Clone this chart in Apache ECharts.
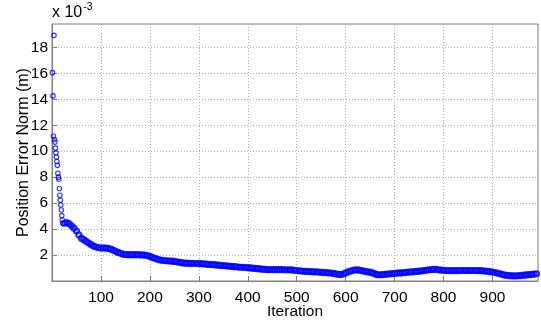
<!DOCTYPE html>
<html>
<head>
<meta charset="utf-8">
<script src="https://cdn.jsdelivr.net/npm/echarts@6/dist/echarts.min.js"></script>
<style>
html,body{margin:0;padding:0;background:#fff;}
#c{width:541px;height:325px;}
</style>
</head>
<body>
<div id="c"></div>
<script>
// Early iterations (scattered circles), values in units of 1e-3 m
var earlyIter = [1,2,3,4,5,6,7,8,9,10,11,12,13,14,15,16,17,18,19,20,21,22];
var earlyVal  = [16.05,14.26,11.15,18.92,10.9,10.7,10.24,9.88,9.55,9.21,8.91,8.3,8.0,7.84,7.13,6.61,6.23,5.85,5.47,5.04,4.70,4.45];

// Dense part: one reading every 5 iterations starting at iteration 25
var bandStart = 25;
var bandStep = 5;
var bandVal = [
4.45,4.50,4.42,4.25,4.07,3.85,3.55,3.30,3.18,3.05,
2.92,2.80,2.69,2.62,2.57,2.54,2.55,2.54,2.51,2.46,
2.38,2.29,2.20,2.13,2.07,2.04,2.03,2.03,2.03,2.03,
2.03,2.02,2.01,1.99,1.96,1.90,1.82,1.75,1.69,1.63,
1.59,1.57,1.56,1.54,1.53,1.51,1.48,1.44,1.41,1.38,
1.37,1.36,1.36,1.35,1.35,1.34,1.34,1.32,1.30,1.28,
1.27,1.26,1.24,1.22,1.20,1.18,1.17,1.15,1.13,1.11,
1.10,1.08,1.06,1.05,1.04,1.03,1.01,0.99,0.97,0.95,
0.93,0.91,0.89,0.88,0.88,0.87,0.87,0.87,0.87,0.87,
0.86,0.86,0.86,0.85,0.83,0.81,0.79,0.77,0.75,0.74,
0.73,0.72,0.71,0.70,0.69,0.67,0.66,0.64,0.63,0.61,
0.58,0.55,0.51,0.50,0.54,0.62,0.70,0.77,0.82,0.85,
0.85,0.82,0.78,0.74,0.71,0.68,0.62,0.55,0.49,0.48,
0.49,0.51,0.53,0.55,0.57,0.59,0.61,0.62,0.63,0.65,
0.67,0.69,0.71,0.72,0.74,0.76,0.78,0.80,0.83,0.86,
0.88,0.90,0.89,0.86,0.84,0.82,0.81,0.80,0.80,0.80,
0.80,0.80,0.81,0.81,0.81,0.81,0.81,0.81,0.81,0.80,
0.80,0.79,0.77,0.75,0.72,0.69,0.65,0.61,0.56,0.51,
0.46,0.43,0.41,0.40,0.40,0.40,0.41,0.43,0.45,0.47,
0.49,0.51,0.53,0.56
];

var xTicks = [100,200,300,400,500,600,700,800,900];
var yTicks = [2,4,6,8,10,12,14,16,18];

var earlyData = earlyIter.map(function(x,i){return [x, earlyVal[i]];});
var bandData = bandVal.map(function(v,i){return [bandStart + i*bandStep, v];});

var chart = echarts.init(document.getElementById('c'), null, {renderer:'canvas'});
var font = 'Liberation Sans, Arial, sans-serif';
var axisGrey = '#808080';

chart.setOption({
  animation:false,
  backgroundColor:'#fff',
  textStyle:{fontFamily:font},
  grid:{left:52, right:3, top:24, bottom:43, show:true, borderColor:axisGrey, borderWidth:1, backgroundColor:'transparent'},
  xAxis:{
    type:'value', min:0, max:993, interval:100,
    name:'Iteration', nameLocation:'middle', nameGap:23, nameMoveOverlap:false,
    nameTextStyle:{fontSize:15.5, color:'#000', fontFamily:font},
    axisLine:{lineStyle:{color:axisGrey}},
    axisTick:{inside:true, length:5, lineStyle:{color:axisGrey}},
    axisLabel:{fontSize:15.5, color:'#000', margin:9, fontFamily:font,
      showMinLabel:false, showMaxLabel:false,
      formatter:function(v){return xTicks.indexOf(v)>=0 ? String(v) : '';}},
    splitLine:{show:true, lineStyle:{color:'#b0b0b0', type:[1,2], width:1}}
  },
  yAxis:{
    type:'value', min:0, max:19.8, interval:2,
    name:'Position Error Norm (m)', nameLocation:'middle', nameGap:20, nameMoveOverlap:false,
    nameTextStyle:{fontSize:16, color:'#000', fontFamily:font},
    axisLine:{show:true, lineStyle:{color:axisGrey}},
    axisTick:{inside:true, length:5, lineStyle:{color:axisGrey}},
    axisLabel:{fontSize:15.5, color:'#000', margin:4, fontFamily:font,
      showMinLabel:false, showMaxLabel:false,
      formatter:function(v){return yTicks.indexOf(v)>=0 ? String(v) : '';}},
    splitLine:{show:true, lineStyle:{color:'#b0b0b0', type:[1,2], width:1}}
  },
  graphic:[{
    type:'text', left:52, top:2,
    style:{
      text:'{b|x 10}{s|-3}',
      rich:{
        b:{fontSize:16, fontFamily:font, fill:'#000', verticalAlign:'bottom', lineHeight:19},
        s:{fontSize:10.5, fontFamily:font, fill:'#000', verticalAlign:'top', padding:[0,0,9,1], lineHeight:19}
      }
    }
  }],
  series:[
    {type:'scatter', data:earlyData, symbol:'circle', symbolSize:4.5,
     itemStyle:{color:'rgba(0,0,0,0)', borderColor:'#0000ff', borderWidth:1.1}, z:3},
    {type:'scatter', data:bandData, symbol:'circle', symbolSize:5,
     itemStyle:{color:'rgba(0,0,0,0)', borderColor:'#0000ff', borderWidth:2.2}, z:3}
  ]
});
</script>
</body>
</html>
